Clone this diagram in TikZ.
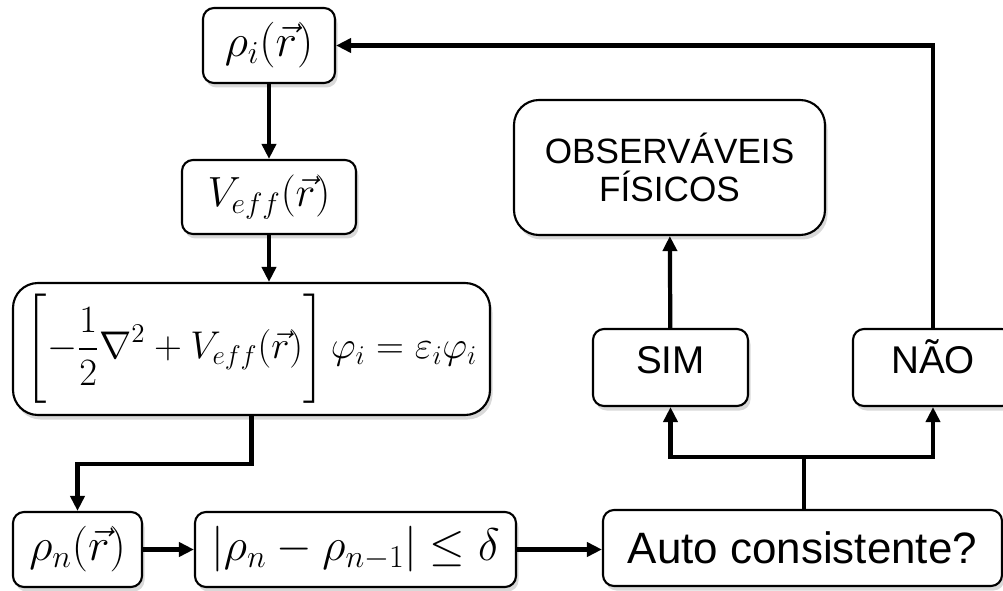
\RequirePackage{fix-cm}
\documentclass[tikz,border=0pt]{standalone}
\usepackage{exscale}
\usepackage{fontspec}
\newfontfamily\arialfont{Liberation Sans}
\usetikzlibrary{arrows.meta,shadows}

\begin{document}
\begin{tikzpicture}[
      box/.style={draw,line width=1.2pt,rounded corners=0.22cm,fill=white,
        drop shadow={shadow xshift=0.05cm,shadow yshift=-0.09cm,opacity=0.3},
        font=\fontsize{26}{30}\selectfont,inner sep=0pt},
      bigbox/.style={box,rounded corners=0.5cm},
      txt/.style={font=\arialfont\fontsize{#1}{#1}\selectfont},
      arr/.style={line width=2.4pt,-{Triangle[length=0.3cm,width=0.28cm]}},
      ln/.style={line width=2.4pt}]
      \useasboundingbox (0,0) rectangle (20.06,11.8);
      % coluna da esquerda
      \node[box,minimum width=2.64cm,minimum height=1.5cm] (rhoi) at (5.38,10.89) {$\rho_i(\vec{r})$};
      \node[box,font=\fontsize{24}{28}\selectfont,minimum width=3.48cm,minimum height=1.48cm] (veff) at (5.38,7.86) {$V_{eff}(\vec{r})$};
      \node[bigbox,font=\fontsize{22}{26}\selectfont,minimum width=9.54cm,minimum height=2.64cm] (ks) at (5.03,4.82)
        {$\displaystyle\Biggl[-\frac{1}{2}\nabla^2+V_{eff}(\vec{r})\Biggr]\,\varphi_i=\varepsilon_i\varphi_i$};
      % linha de baixo
      \node[box,minimum width=2.58cm,minimum height=1.5cm] (rhon) at (1.55,0.81) {$\rho_n(\vec{r})$};
      \node[box,minimum width=6.42cm,minimum height=1.5cm] (dif) at (7.11,0.81) {$|\rho_n-\rho_{n-1}|\leq\delta$};
      \node[box,txt=25,minimum width=7.98cm,minimum height=1.52cm] (auto) at (16.05,0.84) {Auto consistente?};
      % lado direito
      \node[box,txt=22,text height=0.72em,text depth=0pt,minimum width=3.1cm,minimum height=1.54cm] (sim) at (13.41,4.45) {SIM};
      \node[box,txt=22,text height=0.72em,text depth=0pt,minimum width=3.2cm,minimum height=1.54cm] (nao) at (18.66,4.45) {NÃO};
      \node[bigbox,txt=20,align=center,minimum width=6.22cm,minimum height=2.7cm] (obs) at (13.39,8.45)
        {OBSERVÁVEIS\\[2pt]FÍSICOS};
      % conexoes
      \draw[arr] (rhoi) -- (veff);
      \draw[arr] (veff.south) -- (veff.south |- ks.north);
      \draw[arr] (ks.south) -- ++(0,-0.96) -| (rhon.north);
      \draw[arr] (rhon) -- (dif);
      \draw[arr] (dif.east) -- (dif.east -| auto.west);
      \draw[ln] ([xshift=0.03cm]auto.north) -- ++(0,1.04) coordinate (split);
      \draw[arr] (split) -| (sim.south);
      \draw[arr] (split) -| (nao.south);
      \draw[arr] (sim) -- (obs);
      \draw[arr] (nao.north) |- (rhoi.east);
\end{tikzpicture}
\end{document}
